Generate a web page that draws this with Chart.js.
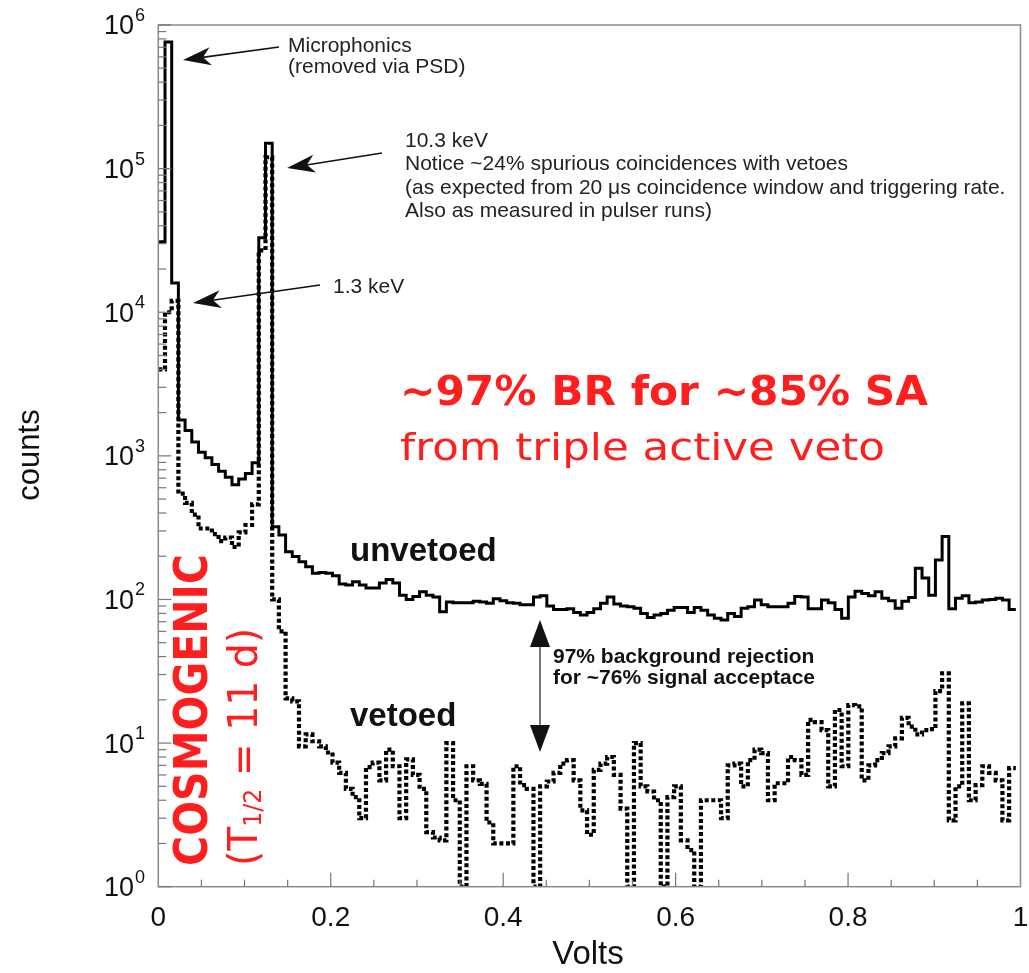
<!DOCTYPE html>
<html><head><meta charset="utf-8">
<script src="https://cdn.jsdelivr.net/npm/chart.js@4.4.1/dist/chart.umd.min.js"></script>
<style>html,body{margin:0;padding:0;background:#fff;}#wrap{width:1029px;height:973px;}</style>
</head><body><div id="wrap"><canvas id="c" width="1029" height="973"></canvas></div>
<script>
// ---- data (counts per bin, 128 bins) ----
const BIN_WIDTH = 0.00777; // volts per bin
const unvetoed = [31000,760000,16000,1780,1500,1250,1060,970,870,780,710,630,690,755,895,33000,
150000,321,281,215,199,183,169,152,154,152,146,128,126,133,126,120,
120,130,138,130,107,100,105,113,107,104,82,96,95,95,95,97,
96,94,101,98,95,94,92,92,104,106,90,85,85,86,81,78,
81,86,94,104,93,90,89,87,80,75,78,80,84,88,88,81,
88,84,78,74,72,80,76,87,89,99,92,89,89,89,94,105,
104,86,86,99,95,85,74,104,114,110,106,113,102,98,87,97,
103,165,141,107,188,274,86,102,106,95,96,99,100,102,99,85];
const vetoed = [4000,10000,12000,545,470,390,312,312,285,255,270,232,293,330,460,27000,
120000,100,60,20.5,19.5,9.5,11.5,10.3,9.5,8.6,7.3,6.2,4.8,4.2,3.0,6.8,
7.3,5.5,9.0,6.9,3.0,7.7,6.0,4.8,2.4,2.2,2.1,10,4.0,1,6.9,5.5,
5.2,2.8,2.0,2.0,2.0,6.9,5.1,4.8,1,5.0,5.4,6.2,7.2,7.6,5.5,3.4,
2.3,6.5,7.2,8.0,6.0,3.5,1,10,5.0,4.6,4.0,1,4.2,5.0,2.1,1.8,
1,4.0,4.0,4.0,3.0,7.0,7.2,5.0,7.6,9.0,8.5,4.0,5.25,5.25,8.0,7.6,
6.0,14.5,14,12.3,5.0,17,6.9,18.4,18,5.5,7.0,7.6,8.5,9.5,10.8,15,
13,11.5,12.3,12.5,23,30.6,2.9,5.0,18.9,4.0,5.1,6.9,6.2,5.5,2.9,6.7];
const xTickValues = [0,0.2,0.4,0.6,0.8,1];
const xTickLabels = ['0','0.2','0.4','0.6','0.8','1'];
const yDecades = [0,1,2,3,4,5,6];
const seriesNames = ['unvetoed','vetoed'];

function toSteps(vals){
  const pts = vals.map((v,i)=>({x:i*BIN_WIDTH, y:v}));
  pts.push({x:vals.length*BIN_WIDTH, y:vals[vals.length-1]});
  return pts;
}

const SANS = '"Liberation Sans", Arial, Helvetica, sans-serif';
const COMIC = '"DejaVu Sans", "Noto Sans", sans-serif';

function arrow(ctx,x1,y1,x2,y2,len,hw){
  const a=Math.atan2(y2-y1,x2-x1);
  ctx.save();
  ctx.strokeStyle='#111';ctx.lineWidth=1.6;
  ctx.beginPath();ctx.moveTo(x1,y1);
  ctx.lineTo(x2-Math.cos(a)*len*0.7,y2-Math.sin(a)*len*0.7);ctx.stroke();
  ctx.translate(x2,y2);ctx.rotate(a);
  ctx.fillStyle='#111';ctx.beginPath();
  ctx.moveTo(0,0);ctx.lineTo(-len,-hw);ctx.lineTo(-len*0.72,0);ctx.lineTo(-len,hw);ctx.closePath();ctx.fill();
  ctx.restore();
}
function fitText(ctx,text,x,y,font,w,color){
  ctx.save();ctx.font=font;ctx.fillStyle=color;ctx.textAlign='left';ctx.textBaseline='alphabetic';
  const s=w/ctx.measureText(text).width;
  ctx.translate(x,y);ctx.scale(s,1);ctx.fillText(text,0,0);ctx.restore();
}

const decor = {
  id:'decor',
  afterDraw(chart){
    const ctx=chart.ctx, xs=chart.scales.x, ys=chart.scales.y, a=chart.chartArea;
    ctx.save();
    // frame
    ctx.strokeStyle='#8a8a8a';ctx.lineWidth=1.5;
    ctx.strokeRect(a.left,a.top,a.right-a.left,a.bottom-a.top);
    // y ticks (inward)
    ctx.strokeStyle='#777';ctx.lineWidth=1.2;
    yDecades.forEach(d=>{
      const py=ys.getPixelForValue(Math.pow(10,d));
      ctx.beginPath();ctx.moveTo(a.left,py);ctx.lineTo(a.left+13,py);ctx.stroke();
      if(d<6){for(let m=2;m<=9;m++){const pm=ys.getPixelForValue(m*Math.pow(10,d));
        ctx.beginPath();ctx.moveTo(a.left,pm);ctx.lineTo(a.left+8,pm);ctx.stroke();}}
    });
    // x ticks (inward)
    for(let i=1;i<20;i++){const v=i*0.05;const px=xs.getPixelForValue(v);
      const major=(i%4===0);
      ctx.beginPath();ctx.moveTo(px,a.bottom);ctx.lineTo(px,a.bottom-(major?14:7));ctx.stroke();}
    // y tick labels 10^k
    ctx.fillStyle='#111';ctx.textBaseline='middle';
    yDecades.forEach(d=>{
      const py=ys.getPixelForValue(Math.pow(10,d));
      ctx.font='27px '+SANS;ctx.textAlign='right';ctx.fillText('10',134,py+2);
      ctx.font='18px '+SANS;ctx.textAlign='left';ctx.fillText(String(d),135,py-9);
    });
    // x tick labels
    ctx.font='28px '+SANS;ctx.textAlign='center';
    xTickValues.forEach((v,i)=>ctx.fillText(xTickLabels[i],xs.getPixelForValue(v),918));
    // axis titles
    ctx.font='33px '+SANS;ctx.fillText('Volts',588,955);
    ctx.save();ctx.translate(30,455);ctx.rotate(-Math.PI/2);ctx.font='31px '+SANS;ctx.fillText('counts',0,0);ctx.restore();
    // annotations
    ctx.textAlign='left';ctx.textBaseline='alphabetic';ctx.fillStyle='#222';
    ctx.font='21px '+SANS;
    ctx.fillText('Microphonics',288,52);
    ctx.fillText('(removed via PSD)',288,73);
    arrow(ctx,279,47,183,60,28,9);
    ctx.fillText('10.3 keV',405,146.5);
    ctx.fillText('Notice ~24% spurious coincidences with vetoes',405,170);
    ctx.fillText('(as expected from 20 \u03bcs coincidence window and triggering rate.',405,194);
    ctx.fillText('Also as measured in pulser runs)',405,217);
    arrow(ctx,382,153,287,168,28,9);
    ctx.fillText('1.3 keV',333,293);
    arrow(ctx,320,285,193,303,28,9);
    // series labels
    ctx.fillStyle='#111';ctx.font='bold 33px '+SANS;
    ctx.fillText(seriesNames[0],350,561);
    ctx.fillText(seriesNames[1],350,726);
    ctx.font='bold 21px '+SANS;
    ctx.fillText('97% background rejection',553,663);
    ctx.fillText('for ~76% signal acceptace',553,684);
    // double arrow
    ctx.strokeStyle='#555';ctx.lineWidth=1.6;
    ctx.beginPath();ctx.moveTo(540,640);ctx.lineTo(540,730);ctx.stroke();
    ctx.fillStyle='#111';
    ctx.beginPath();ctx.moveTo(540,620);ctx.lineTo(530,647);ctx.lineTo(550,647);ctx.closePath();ctx.fill();
    ctx.beginPath();ctx.moveTo(540,752);ctx.lineTo(530,725);ctx.lineTo(550,725);ctx.closePath();ctx.fill();
    // red text
    const RED='#ff1e1e';
    fitText(ctx,'~97% BR for ~85% SA',400,405,'bold 40px '+COMIC,528,RED);
    fitText(ctx,'from triple active veto',400,460,'38px '+COMIC,485,RED);
    // rotated red
    ctx.save();ctx.translate(207,866);ctx.rotate(-Math.PI/2);
    fitText(ctx,'COSMOGENIC',0,0,'bold 46px '+COMIC,312,RED);
    ctx.restore();
    ctx.save();ctx.translate(257,866);ctx.rotate(-Math.PI/2);
    ctx.fillStyle=RED;ctx.textBaseline='alphabetic';ctx.textAlign='left';
    const f1='40px '+COMIC, f2='24px '+COMIC;
    ctx.font=f1;const w1=ctx.measureText('(T').width;
    ctx.font=f2;const w2=ctx.measureText('1/2').width;
    ctx.font=f1;const w3=ctx.measureText(' = 11 d)').width;
    const s=238/(w1+w2+w3);ctx.scale(s,1);
    ctx.font=f1;ctx.fillText('(T',0,0);
    ctx.font=f2;ctx.fillText('1/2',w1,4);
    ctx.font=f1;ctx.fillText(' = 11 d)',w1+w2,0);
    ctx.restore();
    ctx.restore();
  }
};

new Chart(document.getElementById('c'),{
  type:'line',
  data:{datasets:[
    {label:seriesNames[1],data:toSteps(vetoed),stepped:'before',borderColor:'#000',borderWidth:4.2,borderDash:[4,2.6],borderCapStyle:'butt',pointRadius:0,fill:false,order:0},
    {label:seriesNames[0],data:toSteps(unvetoed),stepped:'before',borderColor:'#000',borderWidth:3,pointRadius:0,fill:false,order:1}
  ]},
  options:{
    responsive:false,animation:false,devicePixelRatio:1,
    layout:{padding:{left:158.3,right:8.5,top:25,bottom:86.3}},
    plugins:{legend:{display:false},tooltip:{enabled:false}},
    scales:{
      x:{type:'linear',min:0,max:1,display:false},
      y:{type:'logarithmic',min:1,max:1e6,display:false}
    }
  },
  plugins:[decor]
});
</script></body></html>
